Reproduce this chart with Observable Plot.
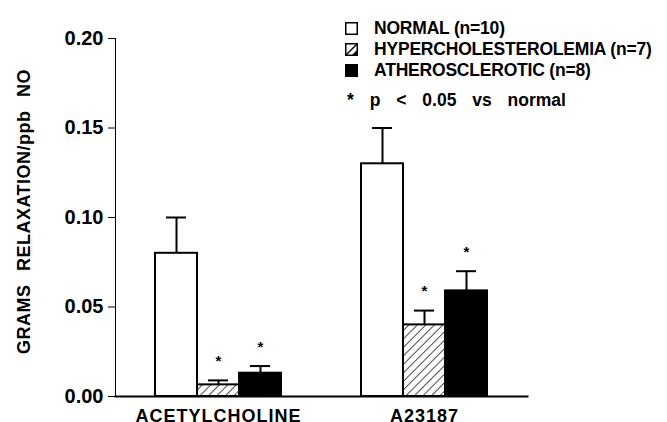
<!DOCTYPE html>
<html>
<head>
<meta charset="utf-8">
<script src="https://cdn.jsdelivr.net/npm/d3@7"></script>
<script src="https://cdn.jsdelivr.net/npm/@observablehq/plot@0.6"></script>
<style>
  body { margin: 0; background: #fff; }
  #wrap { position: relative; width: 667px; height: 422px; overflow: hidden; font-family: "Liberation Sans", Arial, sans-serif; }
  #legend { position: absolute; left: 345px; top: 18px; font-weight: bold; font-size: 17.5px; letter-spacing: -0.2px; color: #000; }
  .row { display: flex; align-items: center; height: 21px; white-space: nowrap; }
  .row svg { margin-right: 16px; }
  .note { margin-top: 9px; margin-left: 2px; word-spacing: 11px; letter-spacing: 0; white-space: nowrap; }
</style>
</head>
<body>
<div id="wrap"></div>
<script>
const groups = ["ACETYLCHOLINE", "A23187"];
const series = ["NORMAL (n=10)", "HYPERCHOLESTEROLEMIA (n=7)", "ATHEROSCLEROTIC (n=8)"];
const normalMean = [0.080, 0.130];
const normalErr = [0.020, 0.020];
const hyperMean = [0.0065, 0.040];
const hyperErr = [0.0025, 0.008];
const atheroMean = [0.013, 0.059];
const atheroErr = [0.004, 0.011];
const significant = [false, true, true]; // per series, vs normal
const yTicks = [0, 0.05, 0.10, 0.15, 0.20];
const yLabel = "GRAMS RELAXATION/ppb NO";
const noteText = "* p < 0.05 vs normal";

const fills = ["white", "url(#hatch)", "black"];
const means = [normalMean, hyperMean, atheroMean];
const errs = [normalErr, hyperErr, atheroErr];
const data = [];
groups.forEach((g, gi) => series.forEach((s, si) => data.push({
  group: g, series: s, mean: means[si][gi], err: errs[si][gi], top: means[si][gi] + errs[si][gi], sig: significant[si]
})));

const plot = Plot.plot({
  width: 667,
  height: 422,
  marginLeft: 114,
  marginRight: 140,
  marginTop: 38,
  marginBottom: 26,
  style: { fontFamily: "Liberation Sans, Arial, sans-serif", fontWeight: "bold", fontSize: "18px", color: "black", overflow: "visible" },
  fx: { domain: groups, paddingInner: 0, paddingOuter: 0, label: null, tickSize: 0, tickPadding: 13 },
  x: { domain: series, paddingInner: 0, paddingOuter: 0.94, axis: null },
  y: { domain: [0, 0.2], ticks: yTicks, tickFormat: ".2f", tickSize: 7, tickPadding: 5, line: true, label: yLabel, labelAnchor: "center", labelOffset: 98, labelArrow: "none" },
  color: { domain: series, range: fills },
  marks: [
    Plot.barY(data, { fx: "group", x: "series", y: "mean", fill: "series", stroke: "black", strokeWidth: 2 }),
    Plot.ruleX(data, { fx: "group", x: "series", y1: "mean", y2: "top", stroke: "black", strokeWidth: 2 }),
    Plot.tickY(data, { fx: "group", x: "series", y: "top", stroke: "black", strokeWidth: 2, insetLeft: 11, insetRight: 11 }),
    Plot.text(data.filter(d => d.sig), { fx: "group", x: "series", y: "top", text: () => "*", dy: -19, fontSize: 15, lineAnchor: "middle" }),
    Plot.frame({ anchor: "bottom", facet: "super", stroke: "black", strokeWidth: 2 })
  ]
});

// hatch pattern
const defs = d3.select(plot).insert("defs", ":first-child");
const pat = defs.append("pattern").attr("id", "hatch").attr("patternUnits", "userSpaceOnUse")
  .attr("width", 6).attr("height", 6).attr("patternTransform", "rotate(45)");
pat.append("rect").attr("width", 6).attr("height", 6).attr("fill", "white");
pat.append("line").attr("x1", 0).attr("y1", 0).attr("x2", 0).attr("y2", 6).attr("stroke", "black").attr("stroke-width", 1.4);

// text styling: category labels, y label, tick labels
d3.select(plot).selectAll("text").each(function() {
  const t = this.textContent;
  if (groups.includes(t)) d3.select(this).style("letter-spacing", "1px");
  if (t === yLabel) d3.select(this).attr("dx", 6).style("letter-spacing", "0.5px").style("word-spacing", "8px");
});
d3.select(plot).selectAll("[aria-label='y-axis tick label'] text").style("font-size", "20px");

const wrap = document.getElementById("wrap");
wrap.appendChild(plot);

// legend
const legend = document.createElement("div");
legend.id = "legend";
const sw = [
  '<svg width="13" height="13"><rect x="0.75" y="0.75" width="11.5" height="11.5" fill="white" stroke="black" stroke-width="1.5"/></svg>',
  '<svg width="13" height="13"><rect x="0.75" y="0.75" width="11.5" height="11.5" fill="white" stroke="black" stroke-width="1.5"/><line x1="1" y1="12" x2="12" y2="1" stroke="black" stroke-width="1.5"/><path d="M7 12 L12 7 L12 12 Z" fill="black"/></svg>',
  '<svg width="13" height="13"><rect x="0" y="0" width="13" height="13" fill="black"/></svg>'
];
series.forEach((s, i) => {
  const row = document.createElement("div");
  row.className = "row";
  row.innerHTML = sw[i] + "<span></span>";
  row.querySelector("span").textContent = s;
  legend.appendChild(row);
});
const note = document.createElement("div");
note.className = "note";
note.textContent = noteText;
legend.appendChild(note);
wrap.appendChild(legend);
</script>
</body>
</html>
